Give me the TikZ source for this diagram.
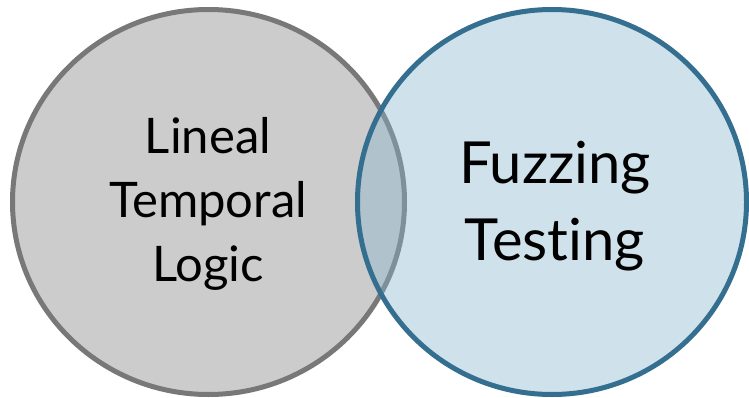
\documentclass[tikz,border=0pt]{standalone}
\usepackage{fontspec}
\usepackage{tikz}
\usetikzlibrary{shapes.geometric}
\setmainfont[Ligatures=CommonOff]{Lato}

\definecolor{ltlgray}{RGB}{204,204,204}
\definecolor{ltledge}{RGB}{120,120,120}
\definecolor{fuzzblue}{RGB}{135,182,207}
\definecolor{fuzzedge}{RGB}{52,111,143}

\tikzset{
  vennset/.style={ellipse, line width=5pt, inner sep=0pt, align=center, text=black}
}

\begin{document}
\begin{tikzpicture}[x=1pt, y=1pt]
    \useasboundingbox[fill=white] (0,0) rectangle (749,397);

    \node[vennset, draw=ltledge, fill=ltlgray, minimum width=392pt, minimum height=385pt]
        (ltl) at (208.5,195) {};
    \node[font=\fontsize{49}{64}\selectfont, align=center]
        (ltltext) at (208,193) {Lineal\\Temporal\\Logic};

    \node[vennset, draw=fuzzedge, fill=fuzzblue, fill opacity=.4, draw opacity=1,
          minimum width=389pt, minimum height=385pt]
        (fuzz) at (552,195) {};
    \node[font=\fontsize{58}{77}\selectfont, align=center]
        (fuzztext) at (555,191) {Fuzzing\\Testing};
\end{tikzpicture}
\end{document}
